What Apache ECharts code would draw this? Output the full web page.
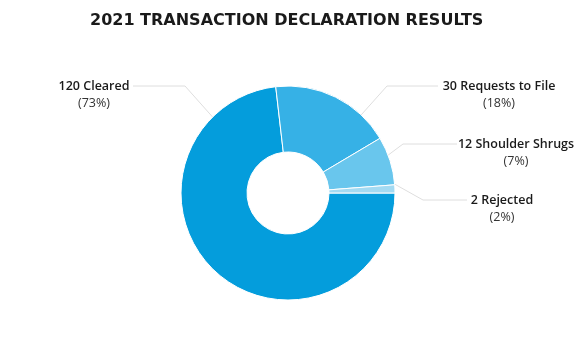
<!DOCTYPE html>
<html><head><meta charset="utf-8">
<script src="https://cdn.jsdelivr.net/npm/echarts@6/dist/echarts.min.js"></script>
<style>html,body{margin:0;padding:0;background:#fff}#c{width:588px;height:358px}</style>
</head><body><div id="c"></div>
<script>
const title = '2021 TRANSACTION DECLARATION RESULTS';
const categories = ['Cleared', 'Requests to File', 'Shoulder Shrugs', 'Rejected'];
const values = [120, 30, 12, 2];
const percents = ['73%', '18%', '7%', '2%'];
const colors = ['#049ddc', '#36b1e6', '#69c6ed', '#a3daf2'];

// label placement: anchor angle (deg) / radius, elbow point, line end, label centre
const CX = 288, CY = 193;
const labelPlace = [
  {ang: 135, r: 100, elbow: [185, 86], end: [133, 86], text: [94, 95]},
  {ang: 46.7, r: 96, elbow: [387, 86], end: [438, 86], text: [499, 95]},
  {ang: 19, r: 97, elbow: [403, 144], end: [457, 144], text: [516, 153]},
  {ang: 5.5, r: 105, elbow: [423, 200], end: [467, 200], text: [502, 209]}
];

const chart = echarts.init(document.getElementById('c'));
chart.setOption({
  animation: false,
  title: {
    text: title, left: 85, top: 8,
    textStyle: {fontFamily: 'DejaVu Sans', fontWeight: 'bold', fontSize: 16, color: '#1a1a1a'}
  },
  series: [{
    type: 'pie',
    center: [CX, CY],
    radius: [41, 107],
    startAngle: 0,
    clockwise: true,
    avoidLabelOverlap: false,
    itemStyle: {borderColor: '#fff', borderWidth: 1},
    label: {
      show: true,
      formatter: p => '{a|' + values[p.dataIndex] + ' ' + p.name + '}\n{b|(' + percents[p.dataIndex] + ')}',
      rich: {
        a: {fontFamily: 'Open Sans', fontWeight: 600, fontSize: 12.5, color: '#1a1a1a', lineHeight: 17, align: 'center'},
        b: {fontFamily: 'Open Sans', fontSize: 12.5, color: '#333', lineHeight: 17, align: 'center'}
      }
    },
    labelLine: {show: true, lineStyle: {color: '#dedede', width: 1}},
    labelLayout: function (params) {
      const L = labelPlace[params.dataIndex];
      const a = L.ang * Math.PI / 180;
      return {
        x: L.text[0], y: L.text[1], align: 'center', verticalAlign: 'middle',
        labelLinePoints: [[CX + L.r * Math.cos(a), CY - L.r * Math.sin(a)], L.elbow, L.end]
      };
    },
    data: categories.map((c, i) => ({name: c, value: values[i], itemStyle: {color: colors[i]}}))
  }]
});
</script></body></html>
